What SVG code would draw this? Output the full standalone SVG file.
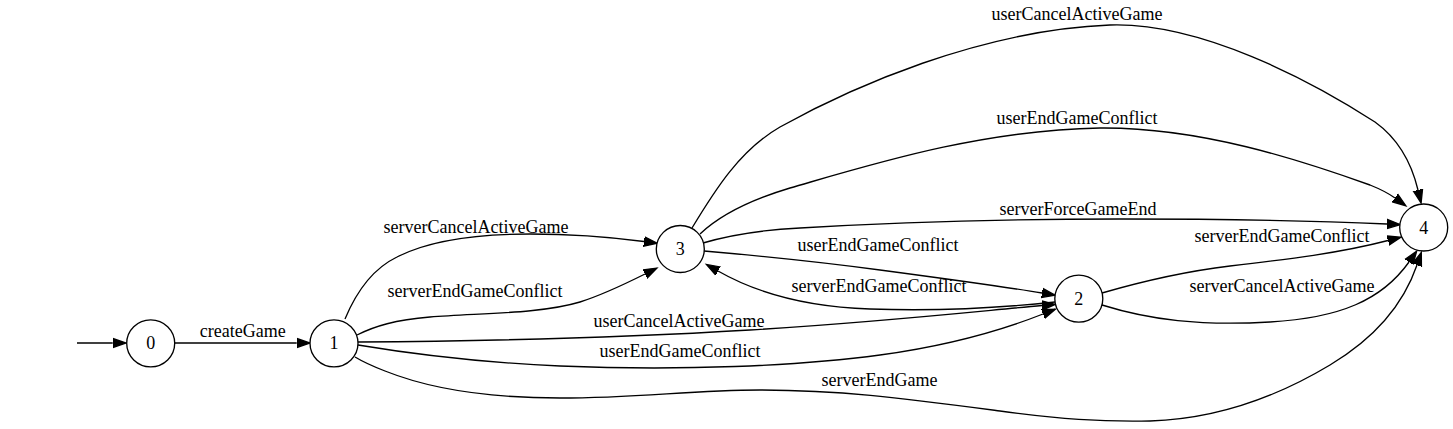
<svg xmlns="http://www.w3.org/2000/svg" width="1453" height="429" viewBox="0 0 1453 429">
<style>
  .node ellipse { fill: #ffffff; stroke: #000000; stroke-width: 1.33; }
  .node text, .label { font-family: "Liberation Serif", "Times New Roman", serif; font-size: 18px; fill: #000000; text-anchor: middle; }
  .edge { fill: none; stroke: #000000; stroke-width: 1.33; marker-end: url(#arrow); }
</style>
<defs>
  <marker id="arrow" markerUnits="userSpaceOnUse" markerWidth="16" markerHeight="12" viewBox="0 -6 16 12" refX="0" refY="0" orient="auto">
    <path d="M0,-4.67 L13.3,0 L0,4.67 Z" fill="#000000" stroke="#000000" stroke-width="1.33"/>
  </marker>
</defs>
<rect width="1453" height="429" fill="#ffffff"/>

<g id="connectors">
  <path class="edge" d="M77,343 L112.7,343"/>
  <path class="edge" d="M175,343 L296.7,343"/>
  <path class="edge" d="M345,319 C355,295 370,270 397,257 C430,240 480,234 530,234 C570,234 610,237 644,241.5"/>
  <path class="edge" d="M357,335 C375,326 395,320 430,317 C480,313 540,314 580,302 C605,294 625,284 645,274"/>
  <path class="edge" d="M358,342 C500,341 650,336 750,330 C880,322 980,311 1042,305.5"/>
  <path class="edge" d="M358,345 C400,352 470,362 560,366 C680,371 800,366 880,355 C960,344 1010,327 1043,314"/>
  <path class="edge" d="M355,357 C365,363 372,366 385,371 C430,389 490,398 560,398 C640,398 690,390 760,390 C840,390 900,398 1000,411 C1060,419 1100,422 1150,421 C1220,419 1280,395 1330,365 C1380,335 1405,300 1417,265"/>
  <path class="edge" d="M692,228 C715,190 740,150 780,127 C850,88 980,30 1110,25 C1200,22 1310,80 1375,122 C1400,140 1412,165 1418,190"/>
  <path class="edge" d="M700,234 C720,215 750,200 790,188 C870,165 980,130 1100,128 C1200,127 1300,160 1370,185 C1380,189 1388,193 1395,198"/>
  <path class="edge" d="M703,243 C730,235 760,230 800,228 C900,222 1000,219 1120,219 C1250,219 1340,222 1387,224"/>
  <path class="edge" d="M704,251 C750,255 820,262 880,270 C940,278 1000,286 1042,293"/>
  <path class="edge" d="M1055,302 C1000,308 930,311 870,309 C810,307 760,295 718,271"/>
  <path class="edge" d="M1102,293 C1140,282 1180,272 1230,266 C1290,259 1340,253 1388,240.5"/>
  <path class="edge" d="M1102,305 C1150,320 1200,326 1270,322 C1340,318 1382,300 1409,262"/>

  <text class="label" x="242.7" y="337">createGame</text>
  <text class="label" x="476" y="233">serverCancelActiveGame</text>
  <text class="label" x="475" y="297">serverEndGameConflict</text>
  <text class="label" x="679" y="327">userCancelActiveGame</text>
  <text class="label" x="680" y="357">userEndGameConflict</text>
  <text class="label" x="879.5" y="386">serverEndGame</text>
  <text class="label" x="1077" y="20">userCancelActiveGame</text>
  <text class="label" x="1077" y="124">userEndGameConflict</text>
  <text class="label" x="1078" y="215">serverForceGameEnd</text>
  <text class="label" x="878" y="251">userEndGameConflict</text>
  <text class="label" x="879" y="292">serverEndGameConflict</text>
  <text class="label" x="1282" y="242">serverEndGameConflict</text>
  <text class="label" x="1282" y="292">serverCancelActiveGame</text>
</g>

<g id="node0" class="node"><ellipse cx="150.7" cy="343.3" rx="24" ry="23.5"/><text x="150.7" y="349.3">0</text></g>
<g id="node1" class="node"><ellipse cx="334" cy="343.3" rx="24" ry="23.5"/><text x="334" y="349.3">1</text></g>
<g id="node3" class="node"><ellipse cx="680.3" cy="249" rx="24" ry="23.5"/><text x="680.3" y="255">3</text></g>
<g id="node2" class="node"><ellipse cx="1078.8" cy="298.7" rx="24" ry="23.5"/><text x="1078.8" y="304.7">2</text></g>
<g id="node4" class="node"><ellipse cx="1423.7" cy="227.5" rx="24" ry="23.5"/><text x="1423.7" y="233.5">4</text></g>
</svg>
